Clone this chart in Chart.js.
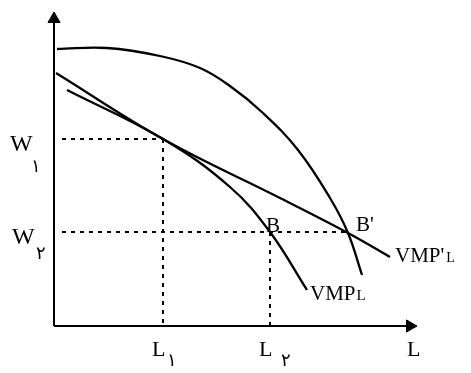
<!DOCTYPE html>
<html>
<head>
<meta charset="utf-8">
<script src="https://cdn.jsdelivr.net/npm/chart.js@4"></script>
<style>
    html, body {margin: 0; padding: 0; background: #fff;}
    #wrap {width: 471px; height: 373px;}
</style>
</head>
<body>
<div id="wrap"><canvas id="laborChart" width="471" height="373"></canvas></div>
<script>
//Top curve (no label), L and W values
const topCurveL = [3, 53, 106, 146, 176, 209, 244, 276, 294, 308];
const topCurveW = [277, 278, 270, 258, 240, 213, 176, 128, 93, 51];

//VMP'L line
const vmpPrimeL = [2, 109, 226, 294, 336];
const vmpPrimeW = [253, 187, 128, 93, 69];

//VMPL curve
const vmpL = [13, 109, 176, 216, 253];
const vmpW = [236, 187, 139, 94, 36];

//Equilibrium levels: W1, W2 and L1, L2, L at B'
const wageLevels = [187, 94];
const laborLevels = [109, 216, 294];

//Axis ends
const axisMaxL = 363;
const axisMaxW = 314;

//Tick labels
const wageLabels = ['W', 'W'];
const laborLabels = ['L', 'L', 'L'];
const subLabels = ['\u06F1', '\u06F2'];

function toPoints(xs, ys) {
    return xs.map((x, i) => ({x: x, y: ys[i]}));
}

const lineStyle = {
    borderColor: '#000',
    borderWidth: 2.3,
    pointRadius: 0,
    fill: false,
    clip: false,
    tension: 0.4,
};

const dotStyle = {
    borderColor: '#000',
    borderWidth: 2,
    borderDash: [4, 5],
    pointRadius: 0,
    fill: false,
    clip: false,
};

const arrowStyle = {
    borderColor: '#000',
    backgroundColor: '#000',
    borderWidth: 2,
    pointStyle: 'triangle',
    pointBorderWidth: 1,
    fill: false,
    clip: false,
};

//Text labels drawn on top of the chart
const labelPlugin = {
    id: 'labels',
    afterDatasetsDraw(chart) {
        const ctx = chart.ctx;
        const xs = chart.scales.x;
        const ys = chart.scales.y;
        const serif = '"Liberation Serif", "Times New Roman", serif';
        const digits = '"DejaVu Sans", sans-serif';
        ctx.save();
        ctx.fillStyle = '#000';
        ctx.textBaseline = 'alphabetic';
        ctx.textAlign = 'left';

        //W labels
        wageLabels.forEach((t, i) => {
            const py = ys.getPixelForValue(wageLevels[i]);
            ctx.font = '24px ' + serif;
            ctx.fillText(t, 10 + i * 2, py + 12);
            ctx.font = '18px ' + digits;
            ctx.fillText(subLabels[i], 31 + i * 5, py + (i === 0 ? 33 : 27));
        });

        //L labels
        laborLabels.forEach((t, i) => {
            ctx.font = '22px ' + serif;
            if (i < 2) {
                const px = xs.getPixelForValue(laborLevels[i]);
                ctx.fillText(t, px - 11, 356);
                ctx.font = '18px ' + digits;
                ctx.fillText(subLabels[i], px + 4 + i * 7, 366);
            } else {
                ctx.fillText(t, xs.getPixelForValue(axisMaxL) - 10, 356);
            }
        });

        //Point labels
        ctx.font = '21px ' + serif;
        ctx.fillText('B', xs.getPixelForValue(laborLevels[1]) - 4, ys.getPixelForValue(wageLevels[1]) - 0);
        ctx.fillText("B'", xs.getPixelForValue(laborLevels[2]) + 8, ys.getPixelForValue(wageLevels[1]) - 1);

        //Curve labels
        ctx.font = '21px ' + serif;
        ctx.fillText("VMP'", 395, 262);
        const w1 = ctx.measureText("VMP'").width;
        ctx.font = '14px ' + serif;
        ctx.fillText('L', 395 + w1 + 2, 262);
        ctx.font = '21px ' + serif;
        ctx.fillText('VMP', 310, 300);
        const w2 = ctx.measureText('VMP').width;
        ctx.font = '15px ' + serif;
        ctx.fillText('L', 310 + w2 + 1, 300);
        ctx.restore();
    }
};

const laborChart = new Chart(document.getElementById('laborChart'), {
    type: 'line',
    data: {
        datasets: [
            //axes with arrow heads
            Object.assign({data: [{x: 0, y: 0}, {x: 0, y: axisMaxW - 7}], pointRadius: [0, 7], pointRotation: 0}, arrowStyle),
            Object.assign({data: [{x: 0, y: 0}, {x: axisMaxL - 7, y: 0}], pointRadius: [0, 7], pointRotation: 90}, arrowStyle),
            //dotted guides
            Object.assign({data: [{x: 8, y: wageLevels[0]}, {x: laborLevels[0], y: wageLevels[0]}]}, dotStyle),
            Object.assign({data: [{x: laborLevels[0], y: wageLevels[0]}, {x: laborLevels[0], y: 0}]}, dotStyle),
            Object.assign({data: [{x: 8, y: wageLevels[1]}, {x: laborLevels[2], y: wageLevels[1]}]}, dotStyle),
            Object.assign({data: [{x: laborLevels[1], y: wageLevels[1]}, {x: laborLevels[1], y: 0}]}, dotStyle),
            //curves
            Object.assign({label: 'top', data: toPoints(topCurveL, topCurveW)}, lineStyle),
            Object.assign({label: "VMP'L", data: toPoints(vmpPrimeL, vmpPrimeW)}, lineStyle),
            Object.assign({label: 'VMPL', data: toPoints(vmpL, vmpW)}, lineStyle),
        ]
    },
    options: {
        responsive: false,
        animation: false,
        events: [],
        layout: {padding: {left: 54, right: 54, top: 12, bottom: 47}},
        plugins: {legend: {display: false}, tooltip: {enabled: false}},
        scales: {
            x: {type: 'linear', min: 0, max: axisMaxL, display: false},
            y: {type: 'linear', min: 0, max: axisMaxW, display: false},
        },
    },
    plugins: [labelPlugin],
});
</script>
</body>
</html>
